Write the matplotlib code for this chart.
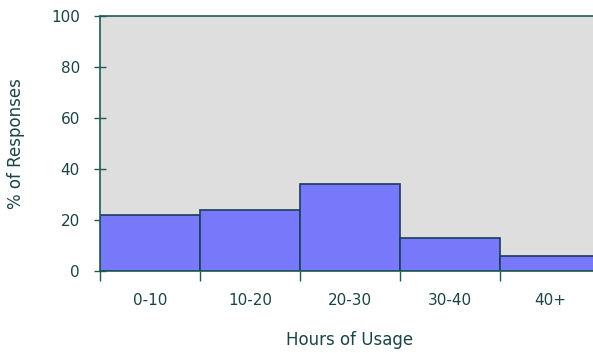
import matplotlib
matplotlib.use("Agg")
import matplotlib.pyplot as plt
import numpy as np

# Survey results: share of responses per usage band
categories = ["0-10", "10-20", "20-30", "30-40", "40+"]
percent = [22, 24, 34, 13, 6]
y_ticks = [0, 20, 40, 60, 80, 100]

text_color = "#1c4444"
line_color = "#1f5a5a"
bar_color = "#7878fa"
edge_color = "#1a3d5c"
panel_color = "#dedede"

fig = plt.figure(figsize=(5.93, 3.53), dpi=100)
ax = fig.add_axes([100 / 593, (353 - 271) / 353, 500 / 593, 255 / 353])
ax.set_facecolor(panel_color)

x = np.arange(len(categories))
ax.bar(x + 0.5, percent, width=1.0, color=bar_color, edgecolor=edge_color,
       linewidth=1.2, zorder=2)

ax.set_xlim(0, len(categories))
ax.set_ylim(0, 100)

# bin boundaries get the tick marks, bin centres get the labels
ax.set_xticks(np.arange(len(categories) + 1))
ax.set_xticklabels([])
ax.set_xticks(x + 0.5, minor=True)
ax.set_xticklabels(categories, minor=True)
ax.tick_params(axis="x", which="major", direction="out", length=7.5, width=1,
               color=line_color)
ax.tick_params(axis="x", which="minor", length=0, pad=16, labelsize=11,
               labelcolor=text_color)

ax.set_yticks(y_ticks)
ax.tick_params(axis="y", direction="inout", length=9, width=1,
               color=line_color, pad=10, labelsize=11, labelcolor=text_color)

for side in ["left", "bottom", "top"]:
    ax.spines[side].set_color(line_color)
    ax.spines[side].set_linewidth(1.2)
ax.spines["right"].set_visible(False)

ax.set_ylabel("% of Responses", fontsize=12, color=text_color,
              verticalalignment="center")
ax.yaxis.set_label_coords(-(100 - 16) / 500, 0.5)
ax.set_xlabel("Hours of Usage", fontsize=12, color=text_color,
              verticalalignment="center")
ax.xaxis.set_label_coords(250 / 500, -(340 - 271) / 255)

fig.savefig("out.png", dpi=100, facecolor="white")
